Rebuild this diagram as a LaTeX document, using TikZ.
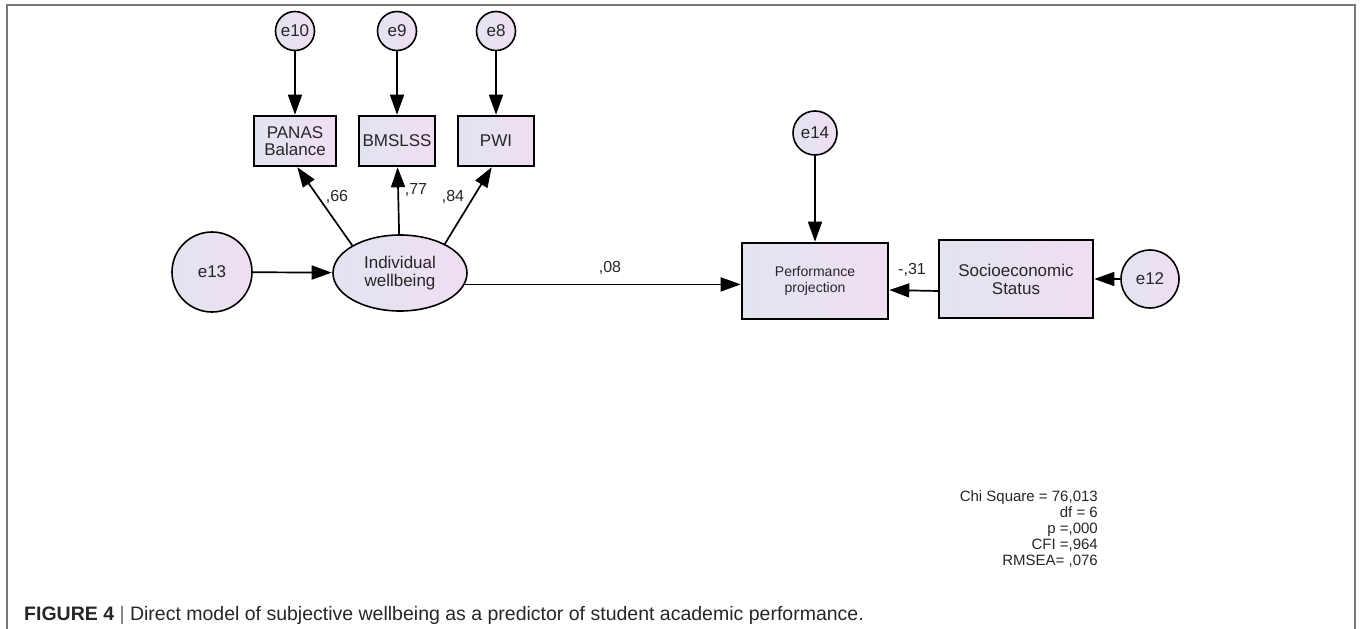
\documentclass[tikz,border=0pt]{standalone}
\usepackage{fontspec}
\setmainfont{Liberation Sans}
\usetikzlibrary{arrows.meta,shapes.geometric}
\definecolor{fillL}{RGB}{226,228,240}
\definecolor{fillR}{RGB}{240,222,242}
\definecolor{framegray}{RGB}{120,120,120}
\begin{document}
\begin{tikzpicture}[x=1pt,y=-1pt,
  every node/.style={font=\fontsize{17}{18}\selectfont, text=black!85},
  shade/.style={left color=fillL, right color=fillR},
  errc/.style={circle, draw=black, line width=1.6pt, shade, inner sep=0pt, minimum size=#1},
  obsbox/.style={rectangle, draw=black, line width=1.6pt, shade, align=center, inner sep=0pt},
  latent/.style={ellipse, draw=black, line width=1.6pt, shade, align=center, inner sep=0pt},
  semarrow/.style={-{Triangle[length=20pt,width=14pt]}, line width=1.7pt, shorten >=0.5pt},
  coef/.style={inner sep=0pt, font=\fontsize{16}{18}\selectfont}
]
\useasboundingbox (0,0) rectangle (1360,629);
\draw[framegray, line width=1.5pt] (7,629) -- (7,5) -- (1355,5) -- (1355,629);

% error terms of indicators
\node[errc=39pt] (e10) at (295,31) {e10};
\node[errc=39pt] (e9) at (397,31) {e9};
\node[errc=39pt] (e8) at (496,31) {e8};

% indicators
\node[obsbox, minimum width=82pt, minimum height=50pt] (panas) at (295,141) {PANAS\\[-1pt]Balance};
\node[obsbox, minimum width=76pt, minimum height=50pt] (bms) at (397,141) {BMSLSS};
\node[obsbox, minimum width=76pt, minimum height=50pt] (pwi) at (496,141) {PWI};

% latent
\node[latent, minimum width=134pt, minimum height=76pt] (iw) at (400,273) {Individual\\wellbeing};
\node[errc=80pt] (e13) at (212,272) {e13};

% outcome
\node[obsbox, minimum width=146pt, minimum height=76pt, font=\fontsize{14}{16}\selectfont] (perf) at (815,281) {Performance\\projection};
\node[errc=44pt] (e14) at (815,133) {e14};
\node[obsbox, minimum width=154pt, minimum height=78pt] (ses) at (1016,279) {Socioeconomic\\Status};
\node[errc=58pt] (e12) at (1150,279) {e12};

% paths
\draw[semarrow] (e10) -- (panas);
\draw[semarrow] (e9) -- (bms);
\draw[semarrow] (e8) -- (pwi);
\draw[semarrow] (iw.150) -- ([xshift=2pt]panas.south);
\draw[semarrow] (iw) -- (bms);
\draw[semarrow] (iw.33) -- ([xshift=-4pt]pwi.south);
\draw[semarrow] (e13) -- (iw);
\draw[semarrow] (iw.-10) -- (iw.-10 -| perf.west);
\draw[semarrow] (e14) -- (perf);
\draw[semarrow] ([yshift=-12pt]ses.west) -- ([yshift=-9pt]perf.east);
\draw[semarrow] (e12) -- (ses);

% coefficients
\node[coef] (c66) at (337,197) {,66};
\node[coef] (c77) at (416,190) {,77};
\node[coef] (c84) at (453,197) {,84};
\node[coef] (c08) at (610,268) {,08};
\node[coef] (c31) at (912,270) {-,31};

% fit statistics
\node[anchor=north east, align=right, inner sep=0pt, font=\fontsize{15}{16}\selectfont] (fit) at (1098,490)
  {Chi Square = 76,013\\df = 6\\p =,000\\CFI =,964\\RMSEA= ,076};

% caption
\node[anchor=west, inner sep=0pt, font=\fontsize{19.5}{22}\selectfont] (cap) at (24,615)
  {\textbf{FIGURE 4} {\color{black!60}|} Direct model of subjective wellbeing as a predictor of student academic performance.};
\end{tikzpicture}
\end{document}
